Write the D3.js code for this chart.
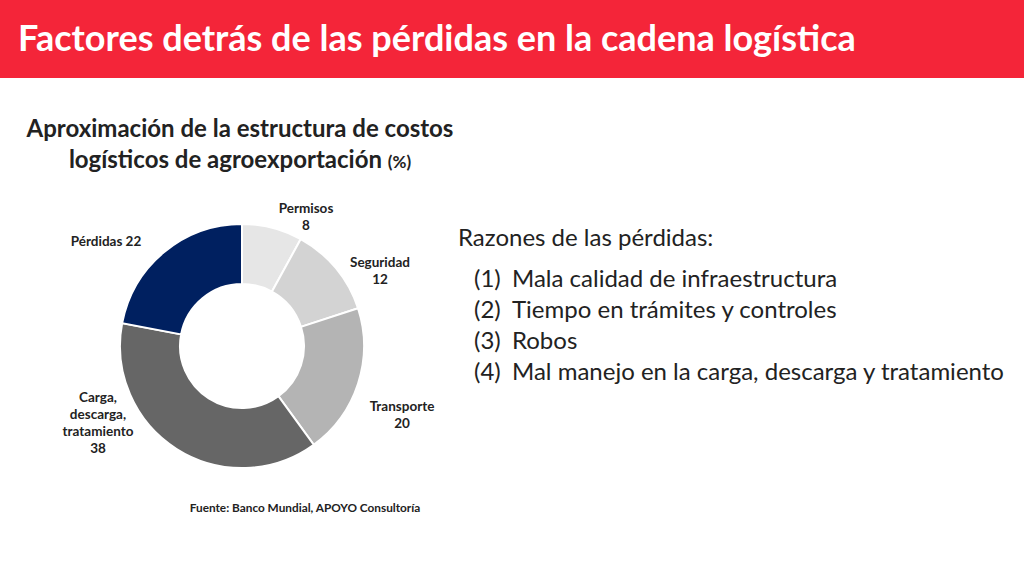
<!DOCTYPE html>
<html>
<head>
<meta charset="utf-8">
<style>
  body { margin: 0; background: #fff; }
  svg text { font-family: Lato, "Open Sans", Arial, sans-serif; }
</style>
</head>
<body>
<script src="https://d3js.org/d3.v7.min.js"></script>
<script>
var categories = ['Permisos', 'Seguridad', 'Transporte', 'Carga, descarga, tratamiento', 'Pérdidas'];
var values = [8, 12, 20, 38, 22];
var colors = ['#e6e6e6', '#d3d3d3', '#b4b4b4', '#666666', '#002060'];
var reasons = ['Mala calidad de infraestructura', 'Tiempo en trámites y controles', 'Robos',
               'Mal manejo en la carga, descarga y tratamiento'];

var svg = d3.select('body').append('svg').attr('width', 1024).attr('height', 576);

svg.append('rect').attr('width', 1024).attr('height', 78).attr('fill', '#f42539');
svg.append('text').attr('x', 18).attr('y', 51).attr('fill', '#fff')
  .attr('font-size', 36).attr('font-weight', 'bold')
  .text('Factores detrás de las pérdidas en la cadena logística');

var sub = svg.append('g').attr('font-weight', 'bold').attr('fill', '#222').attr('text-anchor', 'middle');
sub.append('text').attr('x', 240).attr('y', 137).attr('font-size', 24)
  .text('Aproximación de la estructura de costos');
var t2 = sub.append('text').attr('x', 240).attr('y', 168).attr('font-size', 24);
t2.append('tspan').text('logísticos de agroexportación ');
t2.append('tspan').attr('font-size', 17).text('(%)');

var cx = 242, cy = 346;
var pie = d3.pie().sort(null).value(function (d) { return d; });
var arc = d3.arc().innerRadius(62).outerRadius(122);
var arcs = pie(values);
var g = svg.append('g').attr('transform', 'translate(' + cx + ',' + cy + ')');
g.selectAll('path').data(arcs).enter().append('path')
  .attr('d', arc)
  .attr('fill', function (d, i) { return colors[i]; })
  .attr('stroke', '#fff').attr('stroke-width', 2);

var labelPos = [[306, 213], [380, 267], [402, 411], [98, 402], [106, 246]];
var labels = [['Permisos', '8'], ['Seguridad', '12'], ['Transporte', '20'],
              ['Carga,', 'descarga,', 'tratamiento', '38'], ['Pérdidas  22']];
labels.forEach(function (lines, i) {
  var t = svg.append('text').attr('x', labelPos[i][0]).attr('y', labelPos[i][1])
    .attr('text-anchor', 'middle').attr('font-size', 13.5).attr('font-weight', 'bold').attr('fill', '#222');
  lines.forEach(function (l, j) {
    t.append('tspan').attr('x', labelPos[i][0]).attr('dy', j ? 17 : 0).text(l);
  });
});

svg.append('text').attr('x', 305).attr('y', 512).attr('text-anchor', 'middle')
  .attr('font-size', 11.8).attr('font-weight', 'bold').attr('fill', '#222')
  .text('Fuente: Banco Mundial, APOYO Consultoría');

svg.append('text').attr('x', 458).attr('y', 246).attr('font-size', 24).attr('fill', '#222')
  .text('Razones de las pérdidas:');
reasons.forEach(function (r, i) {
  var y = 287 + i * 31;
  svg.append('text').attr('x', 474).attr('y', y).attr('font-size', 24).attr('fill', '#222')
    .text('(' + (i + 1) + ')');
  svg.append('text').attr('x', 512).attr('y', y).attr('font-size', 24).attr('fill', '#222').text(r);
});
</script>
</body>
</html>
